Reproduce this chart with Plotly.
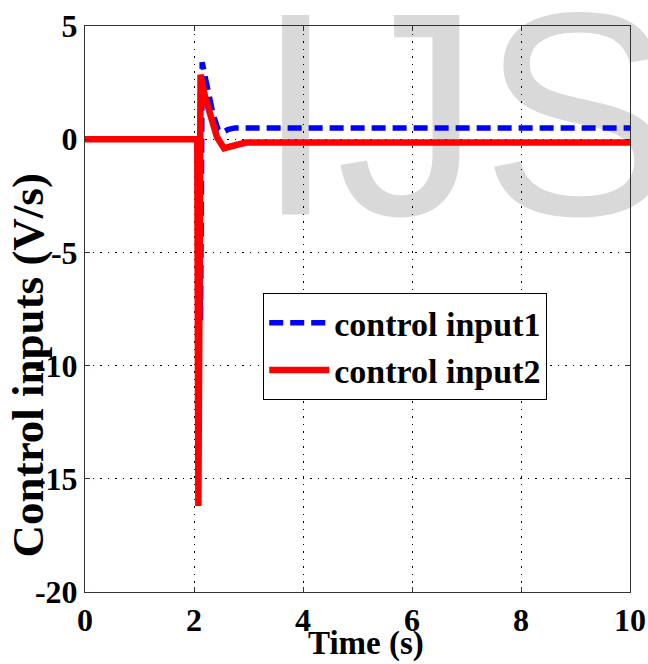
import plotly.graph_objects as go

# ---- data ----
t1 = [0, 2.08, 2.12, 2.135, 2.15, 2.2, 2.26, 2.35, 2.44, 2.52, 2.62, 2.75, 3.0, 10]
u1 = [0, 0, -8.0, 0.5, 3.4, 2.8, 2.0, 1.1, 0.45, 0.3, 0.42, 0.5, 0.5, 0.5]

t2 = [0, 2.06, 2.08, 2.10, 2.12, 2.2, 2.3, 2.42, 2.55, 2.7, 2.95, 10]
u2 = [0, 0, -16.2, 0.0, 2.85, 1.9, 1.0, 0.1, -0.4, -0.3, -0.15, -0.15]

series_names = ["control input1", "control input2"]
x_ticks = [0, 2, 4, 6, 8, 10]
y_ticks = [-20, -15, -10, -5, 0, 5]
x_ticktext = ["0", "2", "4", "6", "8", "10"]
y_ticktext = ["-20", "-15", "-10", "-5", "0", "5"]

SERIF = "Liberation Serif"

fig = go.Figure()
fig.add_trace(go.Scatter(x=t1, y=u1, mode="lines", name=series_names[0],
                         line=dict(color="#0000ff", width=5.5, dash="14px,7px")))
fig.add_trace(go.Scatter(x=t2, y=u2, mode="lines", name=series_names[1],
                         line=dict(color="#ff0000", width=6.5)))

axis_common = dict(
    showline=True, linecolor="#333333", linewidth=1, mirror="ticks",
    ticks="inside", ticklen=5, tickcolor="#333333",
    showgrid=True, gridcolor="black", gridwidth=1, griddash="1.5px,6px",
    zeroline=False, automargin=False,
    tickfont=dict(family=SERIF, size=32, color="black", weight="bold"),
)

fig.update_xaxes(range=[0, 10], tickvals=x_ticks, ticktext=x_ticktext, **axis_common)
fig.update_yaxes(range=[-20, 5], tickvals=y_ticks, ticktext=y_ticktext, **axis_common)

fig.update_layout(
    width=648, height=664,
    margin=dict(l=85, r=18, t=26, b=72),
    paper_bgcolor="white", plot_bgcolor="rgba(0,0,0,0)",
    showlegend=True,
    legend=dict(x=0.327, y=0.528, xanchor="left", yanchor="top",
                bgcolor="white", bordercolor="black", borderwidth=1,
                font=dict(family=SERIF, size=34, color="black", weight="bold"),
                itemwidth=60, tracegroupgap=0),
    annotations=[
        dict(text="Time (s)", xref="paper", yref="paper", x=0.5165, y=-0.127,
             xanchor="center", yanchor="bottom", showarrow=False,
             font=dict(family=SERIF, size=33, color="black", weight="bold")),
        dict(text="Control inputs (V/s)", xref="paper", yref="paper",
             x=-0.105, y=0.40, xanchor="center", yanchor="middle", textangle=-90,
             showarrow=False,
             font=dict(family=SERIF, size=45, color="black", weight="bold")),
    ],
    shapes=[
        dict(type="rect", xref="paper", yref="paper", layer="below",
             x0=0.597, x1=0.797, y0=0.848, y1=0.938,
             line=dict(width=0), fillcolor="rgba(0,0,0,0)",
             label=dict(text="IJS", textposition="middle center",
                        font=dict(family="Liberation Sans", size=290, color="#d9d9d9"))),
    ],
)

fig.write_html("out.html", config={"displayModeBar": False},
               post_script="document.body.style.margin='0';")
